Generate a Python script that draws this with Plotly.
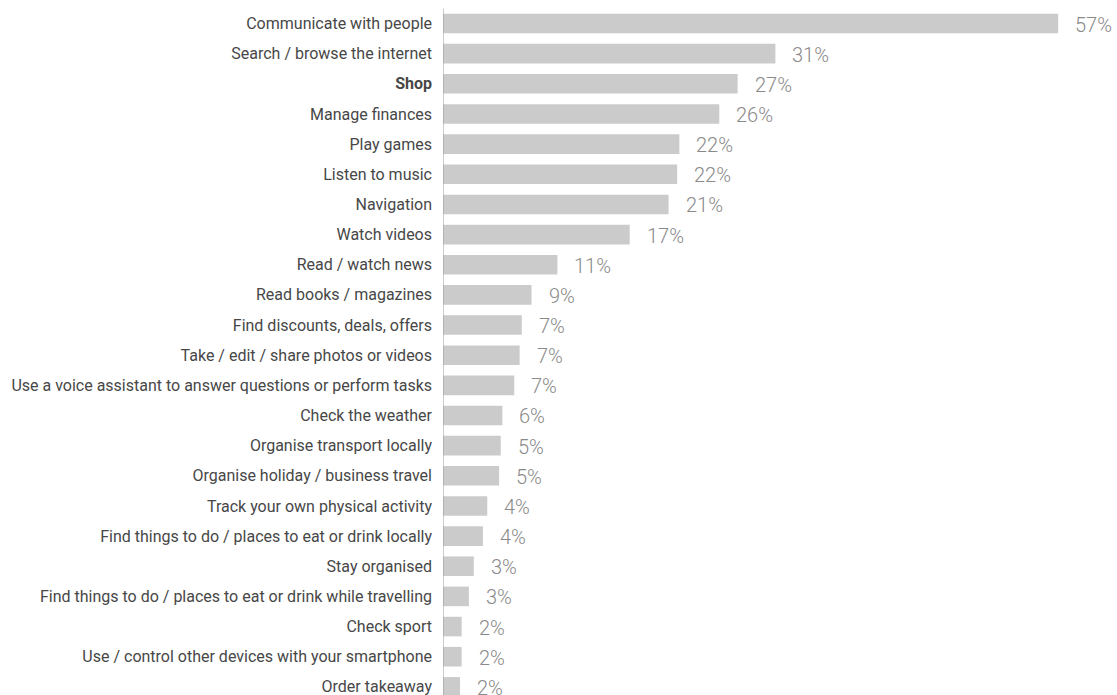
import plotly.graph_objects as go

categories = [
    "Communicate with people",
    "Search / browse the internet",
    "Shop",
    "Manage finances",
    "Play games",
    "Listen to music",
    "Navigation",
    "Watch videos",
    "Read / watch news",
    "Read books / magazines",
    "Find discounts, deals, offers",
    "Take / edit / share photos or videos",
    "Use a voice assistant to answer questions or perform tasks",
    "Check the weather",
    "Organise transport locally",
    "Organise holiday / business travel",
    "Track your own physical activity",
    "Find things to do / places to eat or drink locally",
    "Stay organised",
    "Find things to do / places to eat or drink while travelling",
    "Check sport",
    "Use / control other devices with your smartphone",
    "Order takeaway",
]
values = [57.0, 30.8, 27.3, 25.6, 21.9, 21.7, 20.9, 17.3, 10.6, 8.2, 7.3, 7.1, 6.6,
          5.5, 5.35, 5.2, 4.1, 3.7, 2.85, 2.4, 1.73, 1.73, 1.58]
value_labels = ["57%", "31%", "27%", "26%", "22%", "22%", "21%", "17%", "11%", "9%",
                "7%", "7%", "7%", "6%", "5%", "5%", "4%", "4%", "3%", "3%", "2%", "2%", "2%"]
highlight = "Shop"

tick_text = [f"<b>{c}</b>" if c == highlight else c for c in categories]

fig = go.Figure()
fig.add_trace(go.Bar(
    x=values, y=categories, orientation="h",
    marker=dict(color="#cbcbcb", line=dict(width=0)),
    hoverinfo="skip",
))

for c, v, t in zip(categories, values, value_labels):
    fig.add_annotation(
        x=v, y=c, text=t, showarrow=False, xanchor="left", yanchor="middle",
        xshift=15, yshift=-1,
        font=dict(family="Roboto", size=20, color="#8a8a8a", weight=300),
    )

fig.add_shape(type="line", xref="x", yref="y", x0=0, x1=0, y0=-0.5, y1=22.6,
              line=dict(color="#9a9a9a", width=1))

fig.update_layout(
    width=1117, height=695,
    margin=dict(l=443, r=0, t=0, b=0),
    plot_bgcolor="white", paper_bgcolor="white",
    showlegend=False, bargap=0.35,
    font=dict(family="Roboto", size=16, color="#474747"),
)
fig.update_xaxes(range=[0, 62.45], visible=False, showgrid=False, zeroline=False)
fig.update_yaxes(
    type="category", categoryorder="array", categoryarray=categories,
    tickmode="array", tickvals=categories, ticktext=tick_text,
    range=[22.27, -0.78], showgrid=False, zeroline=False, showline=False,
    ticks="", ticklabelstandoff=10,
    tickfont=dict(family="Roboto", size=16, color="#474747"),
)

fig.write_html("out.html")
